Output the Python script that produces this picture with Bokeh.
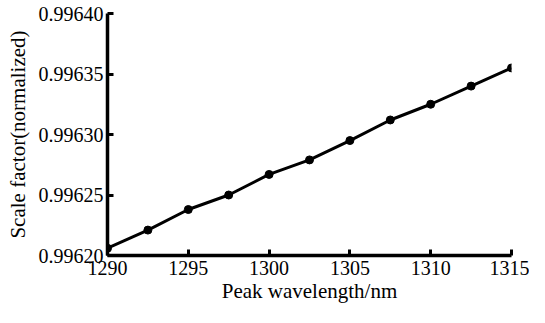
from bokeh.plotting import figure
from bokeh.models import FixedTicker, PrintfTickFormatter, Range1d
from bokeh.embed import file_html
from bokeh.resources import INLINE

wavelength = [1290, 1292.5, 1295, 1297.5, 1300, 1302.5, 1305, 1307.5, 1310, 1312.5, 1315]
scale_factor = [0.996206, 0.996221, 0.996238, 0.996250, 0.996267, 0.996279,
                0.996295, 0.996312, 0.996325, 0.996340, 0.996355]
x_ticks = [1290, 1295, 1300, 1305, 1310, 1315]
y_ticks = [0.99620, 0.99625, 0.99630, 0.99635, 0.99640]

FONT = "Liberation Serif"

p = figure(frame_width=404, frame_height=242, output_backend="svg", toolbar_location=None,
           x_range=Range1d(1290, 1315), y_range=Range1d(0.99620, 0.99640),
           min_border_left=107, min_border_right=18, min_border_top=13, min_border_bottom=52)
p.outline_line_color = None
p.grid.visible = False

p.line(wavelength, scale_factor, line_color="black", line_width=3)
p.scatter(wavelength, scale_factor, size=8, fill_color="black", line_color="black")

for ax in (p.xaxis[0], p.yaxis[0]):
    ax.axis_line_width = 3.5
    ax.axis_line_color = "black"
    ax.major_tick_in = 6
    ax.major_tick_out = 0
    ax.major_tick_line_width = 3
    ax.minor_tick_line_color = None
    ax.major_label_text_font = FONT
    ax.major_label_text_font_size = "20px"
    ax.major_label_text_color = "black"
    ax.axis_label_text_font = FONT
    ax.axis_label_text_font_size = "21px"
    ax.axis_label_text_font_style = "normal"
    ax.axis_label_text_color = "black"

p.xaxis.ticker = FixedTicker(ticks=x_ticks)
p.yaxis.ticker = FixedTicker(ticks=y_ticks)
p.yaxis.formatter = PrintfTickFormatter(format="%.5f")
p.xaxis.axis_label = "Peak wavelength/nm"
p.yaxis.axis_label = "Scale factor(normalized)"
p.xaxis.major_label_standoff = 5
p.yaxis.major_label_standoff = 4
p.xaxis.axis_label_standoff = 1
p.yaxis.axis_label_standoff = 6

open("out.html", "w").write(file_html(p, INLINE))
